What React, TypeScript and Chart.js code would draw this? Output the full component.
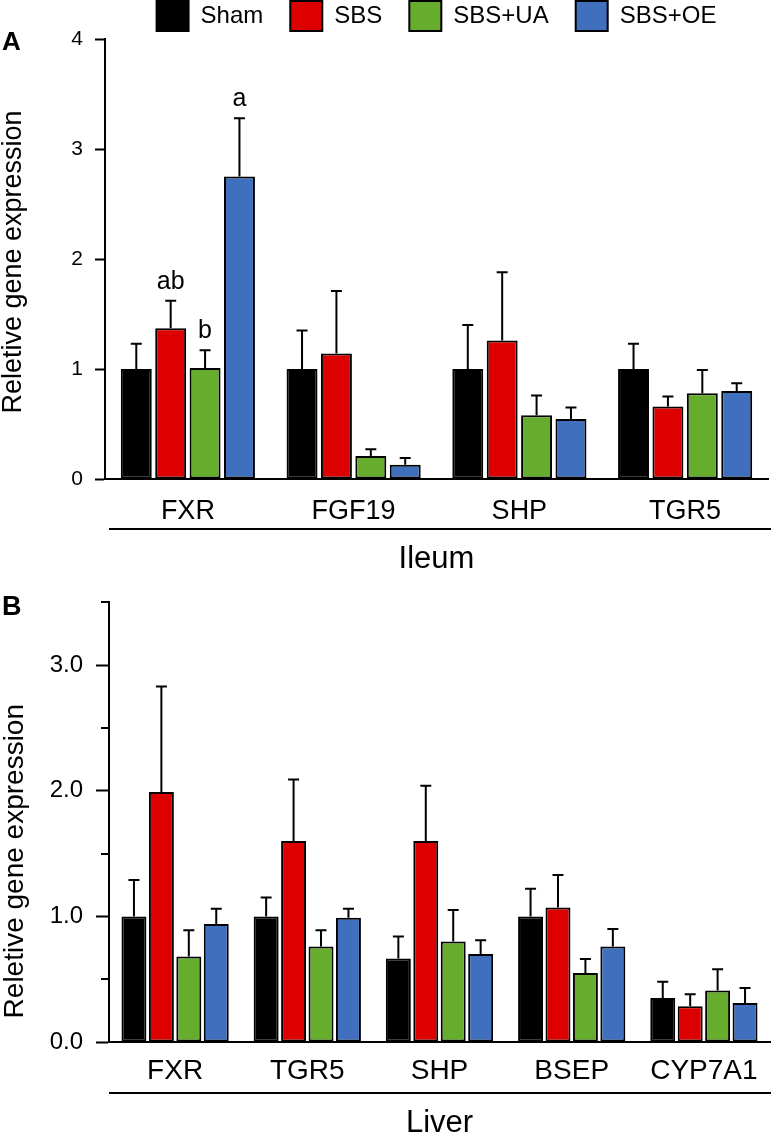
import React, { useEffect, useRef } from "react";
import { Chart, registerables } from "chart.js";

Chart.register(...registerables);

// ---------- shared ----------
const seriesNames = ["Sham", "SBS", "SBS+UA", "SBS+OE"];
const seriesColors = ["#000000", "#DC0000", "#66AD2E", "#4070BD"];

// ---------- Panel A : Ileum ----------
const ileumGenes = ["FXR", "FGF19", "SHP", "TGR5"];
const ileumSham = [1.0, 1.0, 1.0, 1.0];
const ileumSBS = [1.37, 1.14, 1.26, 0.66];
const ileumUA = [1.01, 0.21, 0.58, 0.78];
const ileumOE = [2.75, 0.13, 0.545, 0.8];
const ileumShamErr = [0.23, 0.35, 0.4, 0.23];
const ileumSBSErr = [0.25, 0.57, 0.62, 0.09];
const ileumUAErr = [0.16, 0.06, 0.18, 0.21];
const ileumOEErr = [0.53, 0.06, 0.105, 0.07];
const ileumShamSig = ["", "", "", ""];
const ileumSBSSig = ["ab", "", "", ""];
const ileumUASig = ["b", "", "", ""];
const ileumOESig = ["a", "", "", ""];
const ileumTickValues = [0, 1, 2, 3, 4];
const ileumTickLabels = ["0", "1", "2", "3", "4"];

// ---------- Panel B : Liver ----------
const liverGenes = ["FXR", "TGR5", "SHP", "BSEP", "CYP7A1"];
const liverSham = [1.0, 1.0, 0.665, 1.0, 0.35];
const liverSBS = [1.99, 1.6, 1.6, 1.07, 0.285];
const liverUA = [0.68, 0.76, 0.8, 0.55, 0.41];
const liverOE = [0.94, 0.99, 0.7, 0.76, 0.31];
const liverShamErr = [0.29, 0.15, 0.175, 0.22, 0.13];
const liverSBSErr = [0.84, 0.49, 0.44, 0.26, 0.095];
const liverUAErr = [0.21, 0.13, 0.25, 0.11, 0.17];
const liverOEErr = [0.12, 0.07, 0.11, 0.14, 0.12];
const liverTickValues = [0, 0.5, 1, 1.5, 2, 2.5, 3, 3.5];
const liverTickLabels = ["0.0", "", "1.0", "", "2.0", "", "3.0", ""];

const SANS = "'Liberation Sans', Arial, Helvetica, sans-serif";

const errorBarPlugin = {
  id: "errorBars",
  afterDatasetsDraw(chart: any) {
    const { ctx } = chart;
    const yScale = chart.scales.y;
    chart.data.datasets.forEach((ds: any, di: number) => {
      const meta = chart.getDatasetMeta(di);
      meta.data.forEach((bar: any, i: number) => {
        const v = ds.data[i];
        const e = ds.errors ? ds.errors[i] : 0;
        const yTop = yScale.getPixelForValue(v);
        const yErr = yScale.getPixelForValue(v + e);
        ctx.save();
        ctx.strokeStyle = "#000";
        ctx.lineWidth = 2;
        ctx.beginPath();
        ctx.moveTo(bar.x, yTop);
        ctx.lineTo(bar.x, yErr);
        ctx.moveTo(bar.x - 5.5, yErr);
        ctx.lineTo(bar.x + 5.5, yErr);
        ctx.stroke();
        const s = ds.sig ? ds.sig[i] : "";
        if (s) {
          ctx.fillStyle = "#000";
          ctx.font = `25px ${SANS}`;
          ctx.textAlign = "center";
          ctx.textBaseline = "alphabetic";
          ctx.fillText(s, bar.x, yErr - 12);
        }
        ctx.restore();
      });
    });
  },
};

const decorPlugin = {
  id: "decor",
  afterDraw(chart: any, _args: any, opts: any) {
    const { ctx, chartArea } = chart;
    const yScale = chart.scales.y;
    ctx.save();
    // group separator line
    ctx.strokeStyle = "#000";
    ctx.lineWidth = 2;
    ctx.beginPath();
    const ly = chartArea.bottom + opts.lineOffset;
    ctx.moveTo(opts.lineLeft, ly);
    ctx.lineTo(chart.width, ly);
    ctx.stroke();
    // minor tick marks (unlabelled ticks)
    if (opts.minorTickLength) {
      yScale.ticks.forEach((t: any) => {
        if (t.label === "") {
          const py = Math.round(yScale.getPixelForValue(t.value));
          ctx.beginPath();
          ctx.moveTo(chartArea.left - opts.minorTickLength, py);
          ctx.lineTo(chartArea.left, py);
          ctx.stroke();
        }
      });
    }
    // panel letter
    ctx.fillStyle = "#000";
    ctx.font = `bold ${opts.letterSize}px ${SANS}`;
    ctx.textAlign = "left";
    ctx.textBaseline = "alphabetic";
    ctx.fillText(opts.letter, 2, chartArea.top + opts.letterBaseline);
    // rotated y title
    ctx.translate(opts.titleX, (chartArea.top + chartArea.bottom) / 2 + opts.titleShift);
    ctx.rotate(-Math.PI / 2);
    ctx.font = `${opts.titleSize}px ${SANS}`;
    ctx.textAlign = "center";
    ctx.textBaseline = "middle";
    ctx.fillText(opts.title, 0, 0);
    ctx.restore();
  },
};

function makeDatasets(values: number[][], errors: number[][], sigs: (string[] | null)[]) {
  return seriesNames.map((name, i) => ({
    label: name,
    data: values[i],
    errors: errors[i],
    sig: sigs[i],
    backgroundColor: seriesColors[i],
    borderColor: "#000000",
    borderWidth: 2,
    borderSkipped: false,
  }));
}

export default function App() {
  const refA = useRef<HTMLCanvasElement | null>(null);
  const refB = useRef<HTMLCanvasElement | null>(null);

  useEffect(() => {
    const chartA = new Chart(refA.current as HTMLCanvasElement, {
      type: "bar",
      data: {
        labels: ileumGenes,
        datasets: makeDatasets(
          [ileumSham, ileumSBS, ileumUA, ileumOE],
          [ileumShamErr, ileumSBSErr, ileumUAErr, ileumOEErr],
          [ileumShamSig, ileumSBSSig, ileumUASig, ileumOESig]
        ) as any,
      },
      options: {
        animation: false,
        responsive: false,
        layout: { padding: { left: 0, right: 3, top: 0, bottom: 0 } },
        datasets: { bar: { categoryPercentage: 0.83, barPercentage: 0.9 } },
        plugins: {
          legend: {
            display: true,
            position: "top",
            fullSize: false,
            maxHeight: 65,
            labels: {
              boxWidth: 32,
              boxHeight: 30,
              padding: 27,
              color: "#000",
              font: { family: SANS, size: 24 },
            },
          },
          tooltip: { enabled: false },
          decor: {
            lineOffset: 50,
            lineLeft: 109,
            minorTickLength: 0,
            letter: "A",
            letterSize: 26,
            letterBaseline: 11,
            title: "Reletive gene expression",
            titleSize: 27,
            titleX: 14,
            titleShift: 3,
          },
        } as any,
        scales: {
          x: {
            grid: { display: false, drawTicks: false },
            border: { display: true, color: "#000", width: 2 },
            ticks: { padding: 16, color: "#000", font: { family: SANS, size: 27 } },
            title: {
              display: true,
              text: "Ileum",
              color: "#000",
              font: { family: SANS, size: 31, lineHeight: 1 },
              padding: { top: 0, bottom: 5.5 },
            },
            afterFit: (s: any) => {
              s.height = 101;
            },
          },
          y: {
            min: 0,
            max: 4,
            afterBuildTicks: (s: any) => {
              s.ticks = ileumTickValues.map((v) => ({ value: v }));
            },
            ticks: {
              padding: 12,
              color: "#000",
              font: { family: SANS, size: 21 },
              callback: (_v: any, i: number) => ileumTickLabels[i],
            },
            grid: {
              display: true,
              drawOnChartArea: false,
              drawTicks: true,
              tickLength: 10,
              tickWidth: 2,
              color: "#000",
            },
            border: { display: true, color: "#000", width: 2 },
            afterFit: (s: any) => {
              s.width = 105;
            },
          },
        },
      } as any,
      plugins: [errorBarPlugin, decorPlugin],
    });

    const chartB = new Chart(refB.current as HTMLCanvasElement, {
      type: "bar",
      data: {
        labels: liverGenes,
        datasets: makeDatasets(
          [liverSham, liverSBS, liverUA, liverOE],
          [liverShamErr, liverSBSErr, liverUAErr, liverOEErr],
          [null, null, null, null]
        ) as any,
      },
      options: {
        animation: false,
        responsive: false,
        layout: { padding: { left: 0, right: 1, top: 25, bottom: 0 } },
        datasets: { bar: { categoryPercentage: 0.83, barPercentage: 0.91 } },
        plugins: {
          legend: { display: false },
          tooltip: { enabled: false },
          decor: {
            lineOffset: 51,
            lineLeft: 109,
            minorTickLength: 8,
            letter: "B",
            letterSize: 27,
            letterBaseline: 13,
            title: "Reletive gene expression",
            titleSize: 28,
            titleX: 15,
            titleShift: 39,
          },
        } as any,
        scales: {
          x: {
            grid: { display: false, drawTicks: false },
            border: { display: true, color: "#000", width: 2 },
            ticks: { padding: 12, color: "#000", font: { family: SANS, size: 28 } },
            title: {
              display: true,
              text: "Liver",
              color: "#000",
              font: { family: SANS, size: 31, lineHeight: 1 },
              padding: { top: 0, bottom: 6.5 },
            },
            afterFit: (s: any) => {
              s.height = 103;
            },
          },
          y: {
            min: 0,
            max: 3.5,
            afterBuildTicks: (s: any) => {
              s.ticks = liverTickValues.map((v) => ({ value: v }));
            },
            ticks: {
              padding: 13,
              color: "#000",
              font: { family: SANS, size: 24 },
              callback: (_v: any, i: number) => liverTickLabels[i],
            },
            grid: {
              display: true,
              drawOnChartArea: false,
              drawTicks: true,
              tickLength: 13,
              tickWidth: 2,
              color: "#000",
              tickColor: (c: any) =>
                c.tick && liverTickLabels[liverTickValues.indexOf(c.tick.value)] === ""
                  ? "rgba(0,0,0,0)"
                  : "#000",
            },
            border: { display: true, color: "#000", width: 2 },
            afterFit: (s: any) => {
              s.width = 109;
            },
          },
        },
      } as any,
      plugins: [errorBarPlugin, decorPlugin],
    });

    return () => {
      chartA.destroy();
      chartB.destroy();
    };
  }, []);

  return (
    <div
      style={{
        position: "absolute",
        left: 0,
        top: 0,
        width: 771,
        height: 1136,
        overflow: "hidden",
        background: "#fff",
      }}
    >
      <canvas
        ref={refA}
        width={771}
        height={606}
        style={{ position: "absolute", left: 0, top: -26, width: 771, height: 606 }}
      />
      <canvas
        ref={refB}
        width={771}
        height={570}
        style={{ position: "absolute", left: 0, top: 575, width: 771, height: 570 }}
      />
    </div>
  );
}
